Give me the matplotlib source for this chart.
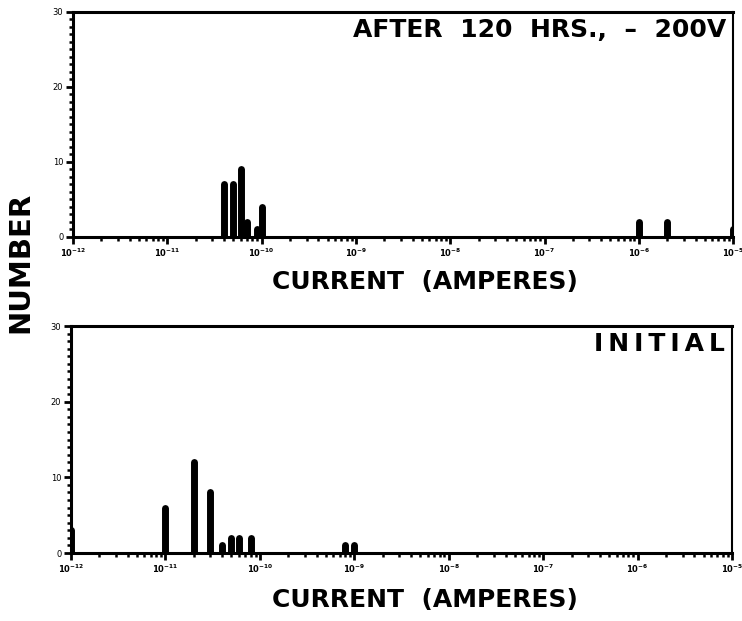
import numpy as np
import matplotlib.pyplot as plt
from matplotlib.ticker import LogLocator, MultipleLocator, FixedLocator

# dados
after_current = [4e-11, 5e-11, 6e-11, 7e-11, 9e-11, 1e-10, 1e-6, 2e-6, 1e-5]
after_count = [7, 7, 9, 2, 1, 4, 2, 2, 1]

initial_current = [1e-12, 1e-11, 2e-11, 3e-11, 4e-11, 5e-11, 6e-11, 8e-11, 8e-10, 1e-9]
initial_count = [3, 6, 12, 8, 1, 2, 2, 2, 1, 1]

decades = [-12, -11, -10, -9, -8, -7, -6, -5]
y_ticks = [0, 10, 20, 30]

plt.rcParams['font.family'] = 'DejaVu Sans'
fig = plt.figure(figsize=(7.42, 6.21), dpi=100)
ax1 = fig.add_axes([0.0984, 0.6184, 0.8896, 0.3623])
ax2 = fig.add_axes([0.0957, 0.1095, 0.8908, 0.3655])


def style(ax):
    ax.set_xscale('log')
    ax.set_xlim(1e-12, 1e-5)
    ax.set_ylim(0, 30)
    ax.xaxis.set_major_locator(FixedLocator([10.0 ** d for d in decades]))
    ax.xaxis.set_minor_locator(LogLocator(base=10, subs=np.arange(2, 10), numticks=20))
    ax.set_xticklabels([r'$\mathbf{10^{%d}}$' % d for d in decades])
    ax.yaxis.set_major_locator(FixedLocator(y_ticks))
    ax.yaxis.set_minor_locator(MultipleLocator(1))
    ax.set_yticklabels([str(v) for v in y_ticks])
    ax.tick_params(axis='both', which='major', direction='out', length=5, width=2,
                   labelsize=6, pad=2)
    ax.tick_params(axis='both', which='minor', direction='out', length=3, width=1.8)
    for s in ax.spines.values():
        s.set_linewidth(2.2)
    ax.spines['right'].set_linewidth(1.5)


style(ax1)
style(ax2)

v1 = ax1.vlines(after_current, 0, after_count, colors='black', linewidth=5)
v1.set_capstyle('round')
v2 = ax2.vlines(initial_current, 0, initial_count, colors='black', linewidth=5)
v2.set_capstyle('round')

ax1.text(0.99, 0.975, 'AFTER  120  HRS.,  \u2013  200V', transform=ax1.transAxes,
         ha='right', va='top', fontsize=18, fontweight='bold')
ax2.text(0.99, 0.975, 'I\u2009N\u2009I\u2009T\u2009I\u2009A\u2009L', transform=ax2.transAxes,
         ha='right', va='top', fontsize=18, fontweight='bold')

fig.text(0.573, 0.546, 'CURRENT  (AMPERES)', ha='center', va='center',
         fontsize=18, fontweight='bold')
fig.text(0.573, 0.034, 'CURRENT  (AMPERES)', ha='center', va='center',
         fontsize=18, fontweight='bold')
fig.text(0.027, 0.578, 'NUMBER', ha='center', va='center', rotation=90,
         fontsize=21, fontweight='bold')

fig.savefig('out.png', dpi=100)
